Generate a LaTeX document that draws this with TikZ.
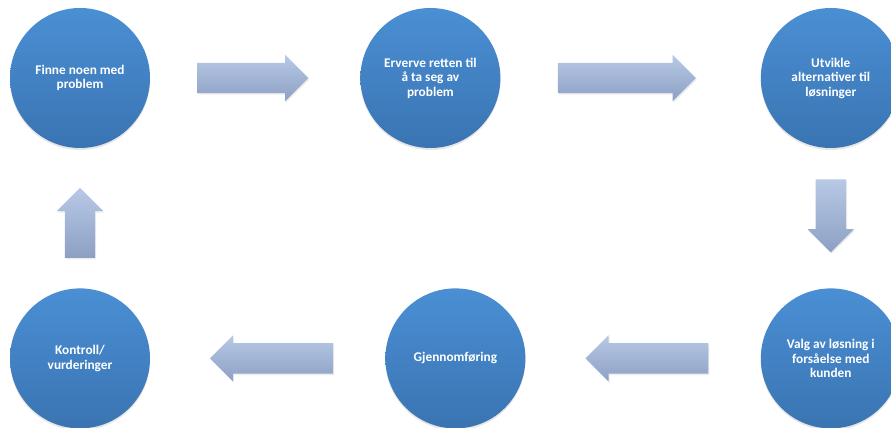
\documentclass[tikz,border=0pt]{standalone}
\usepackage{fontspec}
\setmainfont{Carlito}
\usetikzlibrary{shapes,arrows,positioning,calc,shadows}
\definecolor{circtop}{RGB}{74,143,212}
\definecolor{circbot}{RGB}{58,116,178}
\definecolor{arrtop}{RGB}{183,201,229}
\definecolor{arrbot}{RGB}{141,160,196}

\begin{document}
\begin{tikzpicture}[x=1pt,y=1pt,% 1pt per pixel of the reference
			every node/.style={
				align=center,  		% so that "\\" breaks the line
				font=\bfseries\fontsize{13.3}{14.5}\selectfont
			},
			circ/.style={circle,minimum size=140pt,inner sep=0pt,text=white,
				top color=circtop,bottom color=circbot,
				drop shadow={shadow xshift=0pt,shadow yshift=-2pt,opacity=0.2}},
			blockarrow/.style={single arrow,single arrow head extend=8pt,
				inner sep=15pt,anchor=tail,	% shaft is 30pt wide
				top color=arrtop,bottom color=arrbot,
				drop shadow={shadow xshift=1pt,shadow yshift=-1.5pt,opacity=0.15}}
		]
		\useasboundingbox (0,0) rectangle (891,428);
		\node[circ](C1) at (80,350){Finne noen med\\problem};
		\node[circ](C2)[right=210pt of C1]{Erverve retten til\\å ta seg av\\problem};
		\node[circ](C3)[right=260pt of C2]{Utvikle\\alternativer til\\løsninger};
		\node[circ](C6)[below=140pt of C3]{Valg av løsning i\\forsåelse med\\kunden};
		\node[circ](C5)[left=235pt of C6]{Gjennomføring};
		\node[circ](C4)[left=235pt of C5]{Kontroll/\\vurderinger};
		% block arrows between the circles, placed by their tails
		\node[blockarrow,minimum height=111pt](A12) at ($(C1.east)+(47,0)$){};
		\node[blockarrow,minimum height=138pt](A23) at ($(C2.east)+(57,0)$){};
		\node[blockarrow,minimum height=73pt,shape border rotate=270](A36) at ($(C3.south)+(0,-31)$){};
		\node[blockarrow,minimum height=123pt,shape border rotate=180](A65) at ($(C6.west)+(-52,0)$){};
		\node[blockarrow,minimum height=123pt,shape border rotate=180](A54) at ($(C5.west)+(-52,0)$){};
		\node[blockarrow,minimum height=70pt,shape border rotate=90](A41) at ($(C4.north)+(0,30)$){};
	\end{tikzpicture}
\end{document}
